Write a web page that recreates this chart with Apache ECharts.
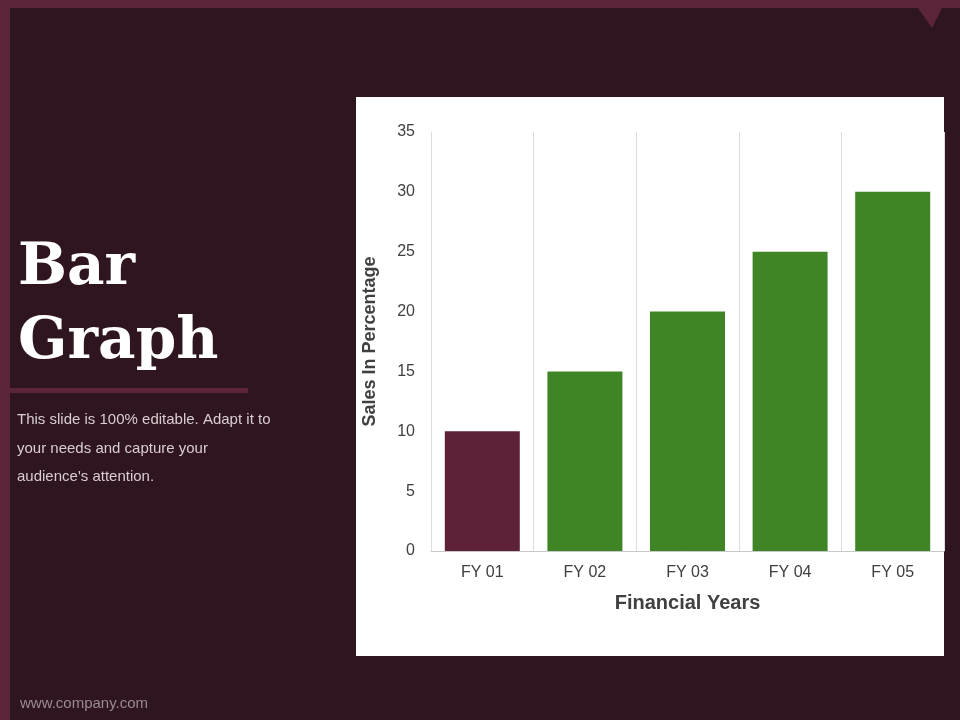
<!DOCTYPE html>
<html><head><meta charset="utf-8">
<script src="https://cdn.jsdelivr.net/npm/echarts@6/dist/echarts.min.js"></script>
<style>html,body{margin:0;padding:0;background:#2f1520}#c{width:960px;height:720px}</style>
</head><body><div id="c"></div>
<script>
// categories + values
const years = ["FY 01", "FY 02", "FY 03", "FY 04", "FY 05"];
const sales = [10, 15, 20, 25, 30];
const barColors = ["#5e2238", "#3f8526", "#3f8526", "#3f8526", "#3f8526"];
const yTicks = { min: 0, max: 35, interval: 5 };

const FRAME = "#5c2438";
const chart = echarts.init(document.getElementById("c"));

chart.setOption({
  backgroundColor: "#2f1520", animation: false,
  graphic: [
    { type: "rect", shape: { x: 0, y: 0, width: 10, height: 720 }, style: { fill: FRAME } },
    { type: "rect", shape: { x: 0, y: 0, width: 960, height: 8 }, style: { fill: FRAME } },
    { type: "polygon", shape: { points: [[918, 8], [942, 8], [932, 28]] }, style: { fill: FRAME } },
    { type: "rect", shape: { x: 356, y: 97, width: 588, height: 559 }, style: { fill: "#fff" }, z: -1 },
    { type: "text", left: 18, top: 232, style: { text: "Bar\nGraph", fill: "#fff", font: "bold 58px 'DejaVu Serif', serif", lineHeight: 74 } },
    { type: "rect", shape: { x: 10, y: 388, width: 238, height: 5 }, style: { fill: FRAME } },
    { type: "text", left: 17, top: 406, style: { text: "This slide is 100% editable. Adapt it to\nyour needs and capture your\naudience's attention.", fill: "#d8cdd2", font: "15px 'Liberation Sans', Arial, sans-serif", lineHeight: 28.5 } },
    { type: "text", left: 20, top: 696, style: { text: "www.company.com", fill: "#9a8a91", font: "15px 'Liberation Sans', Arial, sans-serif" } }
  ],
  grid: { left: 431, right: 16, top: 132, bottom: 169 },
  xAxis: {
    type: "category", data: years,
    name: "Financial Years", nameLocation: "middle", nameGap: 42,
    nameTextStyle: { color: "#404040", fontSize: 20, fontWeight: "bold", fontFamily: "Liberation Sans" },
    axisLine: { lineStyle: { color: "#c8c8c8" } }, axisTick: { show: false },
    axisLabel: { color: "#404040", fontSize: 16, margin: 14, fontFamily: "Liberation Sans" },
    splitLine: { show: true, lineStyle: { color: "#dcdcdc" } }
  },
  yAxis: {
    type: "value", ...yTicks,
    name: "Sales In Percentage", nameLocation: "middle", nameGap: 52,
    nameTextStyle: { color: "#404040", fontSize: 18, fontWeight: "bold", fontFamily: "Liberation Sans" },
    axisLine: { show: true, lineStyle: { color: "#dcdcdc" } }, axisTick: { show: false },
    axisLabel: { color: "#404040", fontSize: 16, margin: 16, fontFamily: "Liberation Sans" },
    splitLine: { show: false }
  },
  series: [{
    type: "bar", barWidth: 75,
    data: sales.map((v, i) => ({ value: v, itemStyle: { color: barColors[i] } }))
  }]
});
</script></body></html>
